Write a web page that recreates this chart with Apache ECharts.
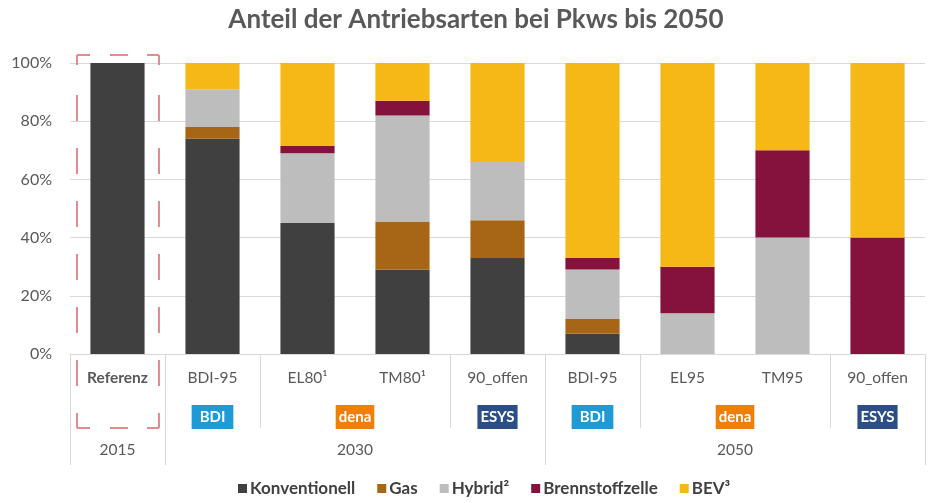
<!DOCTYPE html>
<html>
<head>
<meta charset="utf-8">
<script src="https://cdn.jsdelivr.net/npm/echarts@6/dist/echarts.min.js"></script>
<style>
  html, body { margin: 0; padding: 0; background: #fff; }
  #mycharts { width: 928px; height: 503px; }
</style>
</head>
<body>
<div id="mycharts"></div>
<script>
// Szenarien (x-Achse)
var szenarien = ["Referenz", "BDI-95", "EL80\u00b9", "TM80\u00b9", "90_offen", "BDI-95", "EL95", "TM95", "90_offen"];
// Anteile in %
var konventionell = [100, 74, 45, 29, 33, 7, 0, 0, 0];
var gas = [0, 4, 0, 16.5, 13, 5, 0, 0, 0];
var hybrid = [0, 13, 24, 36.5, 20, 17, 14, 40, 0];
var brennstoffzelle = [0, 0, 2.5, 5, 0, 4, 16, 30, 40];
var bev = [0, 9, 28.5, 13, 34, 67, 70, 30, 60];
// Studien und Jahre (auf halben Kategorien: gerade = Grenze, ungerade = Mitte)
var studien = ["", "", "", "BDI", "", "", "dena", "", "", "ESYS", "", "BDI", "", "", "dena", "", "", "ESYS", ""];
var jahre = ["", "2015", "", "", "", "", "2030", "", "", "", "", "", "", "", "2050", "", "", "", ""];
var yTicks = [0, 20, 40, 60, 80, 100];

var kurzeTrenner = [2, 4, 6, 8];
var langeTrenner = [0, 1, 5, 9];

var schrift = "Lato, 'Open Sans', sans-serif";
var grau = "#595959";
var linie = "#d9d9d9";
var rahmen = "#e58a8f";

var mycharts = echarts.init(document.getElementById("mycharts"));

function balken(name, data, farbe) {
  return {
    name: name,
    type: "bar",
    stack: "gesamt",
    barWidth: "57%",
    data: data,
    itemStyle: { color: farbe },
    emphasis: { disabled: true }
  };
}

// eine Seite des gestrichelten Rahmens (Excel beginnt jede Seite an der Ecke)
function strich(x1, y1, x2, y2, dash) {
  return {
    type: "line",
    shape: { x1: x1, y1: y1, x2: x2, y2: y2 },
    style: { stroke: rahmen, lineWidth: 2, lineDash: dash },
    z: 10
  };
}
var dashH = [13, 20, 18, 19, 12];
var dashV = [10, 30, 26, 27, 26, 27, 26, 27, 26, 27, 26, 27, 26, 27, 15];

var option = {
  animation: false,
  textStyle: { fontFamily: schrift },
  title: {
    text: "Anteil der Antriebsarten bei Pkws bis 2050",
    left: 471,
    top: 2,
    textAlign: "center",
    textStyle: { fontSize: 26, fontWeight: "bold", color: grau, fontFamily: schrift }
  },
  legend: {
    bottom: 1,
    left: 233,
    itemWidth: 9,
    itemHeight: 9,
    itemGap: 22,
    icon: "rect",
    textStyle: { fontSize: 17, fontWeight: "bold", color: "#404040", fontFamily: schrift, padding: [0, 0, 0, -2] },
    data: ["Konventionell", "Gas", "Hybrid\u00b2", "Brennstoffzelle", "BEV\u00b3"]
  },
  grid: { left: 70, right: -12, top: 63, bottom: 149 },
  xAxis: [
    {
      type: "category",
      data: szenarien,
      axisLine: { show: true, lineStyle: { color: linie, width: 1 } },
      axisTick: {
        show: true,
        length: 74,
        interval: function (i) { return kurzeTrenner.indexOf(i) >= 0; },
        lineStyle: { color: linie, width: 1 }
      },
      axisLabel: {
        interval: 0,
        margin: 16,
        fontSize: 15.5,
        color: grau,
        formatter: function (v) { return v === "Referenz" ? "{b|" + v + "}" : v; },
        rich: { b: { fontWeight: "bold", fontSize: 15.5, color: grau } }
      }
    },
    {
      type: "category",
      data: szenarien,
      position: "bottom",
      axisLine: { show: false },
      axisTick: {
        show: true,
        length: 111,
        interval: function (i) { return langeTrenner.indexOf(i) >= 0; },
        lineStyle: { color: linie, width: 1 }
      },
      axisLabel: { show: false }
    },
    {
      type: "category",
      data: studien,
      boundaryGap: false,
      position: "bottom",
      axisLine: { show: false },
      axisTick: { show: false },
      axisLabel: {
        interval: 0,
        margin: 51,
        formatter: function (v) { return v ? "{" + v + "|" + v + "}" : ""; },
        rich: {
          BDI: { backgroundColor: "#1e9ad6", color: "#fff", fontWeight: "bold", fontSize: 15, padding: [5, 8, 4, 8] },
          dena: { backgroundColor: "#f07f09", color: "#fff", fontWeight: "bold", fontSize: 15, padding: [5, 3, 4, 3] },
          ESYS: { backgroundColor: "#2c4e86", color: "#fff", fontWeight: "bold", fontSize: 15, padding: [5, 3, 4, 3] }
        }
      }
    },
    {
      type: "category",
      data: jahre,
      boundaryGap: false,
      position: "bottom",
      axisLine: { show: false },
      axisTick: { show: false },
      axisLabel: { interval: 0, margin: 88, fontSize: 15.5, color: grau }
    }
  ],
  yAxis: {
    type: "value",
    min: yTicks[0],
    max: yTicks[yTicks.length - 1],
    interval: 20,
    axisLine: { show: false },
    axisTick: { show: false },
    splitLine: { lineStyle: { color: linie } },
    axisLabel: { margin: 18, fontSize: 16, color: grau, formatter: "{value}%" }
  },
  graphic: [
    strich(77, 55, 159, 55, dashH),
    strich(77, 428, 159, 428, dashH),
    strich(77, 55, 77, 428, dashV),
    strich(159, 55, 159, 428, dashV)
  ],
  series: [
    balken("Konventionell", konventionell, "#404040"),
    balken("Gas", gas, "#a66616"),
    balken("Hybrid\u00b2", hybrid, "#bdbdbd"),
    balken("Brennstoffzelle", brennstoffzelle, "#84123c"),
    balken("BEV\u00b3", bev, "#f6b817")
  ]
};
mycharts.setOption(option);
</script>
</body>
</html>
